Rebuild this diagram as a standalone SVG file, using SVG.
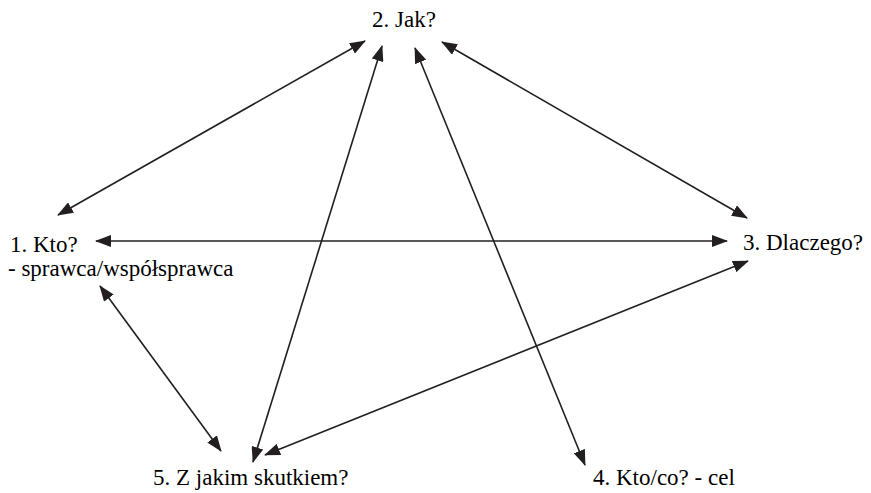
<svg xmlns="http://www.w3.org/2000/svg" width="871" height="493" viewBox="0 0 871 493">
<defs>
<marker id="a" viewBox="0 0 16 12" refX="15" refY="6" markerWidth="16" markerHeight="12" markerUnits="userSpaceOnUse" orient="auto-start-reverse">
<path d="M0,0 L16,6 L0,12 Z" fill="#231f20"/>
</marker>
</defs>
<rect width="871" height="493" fill="#fff"/>
<g id="connectors" stroke="#231f20" stroke-width="1.6" fill="none" marker-start="url(#a)" marker-end="url(#a)">
<line x1="58" y1="215" x2="365" y2="41"/>
<line x1="442" y1="42" x2="747" y2="218"/>
<line x1="96" y1="241" x2="727" y2="241"/>
<line x1="382" y1="46" x2="253" y2="462"/>
<line x1="415" y1="48" x2="585" y2="465"/>
<line x1="100" y1="286" x2="221" y2="451"/>
<line x1="748" y1="261" x2="265" y2="455"/>
</g>
<g id="n2"><text x="372" y="27" font-family="Times New Roman" font-size="23">2. Jak?</text></g>
<g id="n1"><text x="10" y="252" font-family="Times New Roman" font-size="23">1. Kto?</text><text x="8" y="276" font-family="Times New Roman" font-size="23">- sprawca/współsprawca</text></g>
<g id="n3"><text x="743" y="250" font-family="Times New Roman" font-size="23">3. Dlaczego?</text></g>
<g id="n5"><text x="153" y="485" font-family="Times New Roman" font-size="23">5. Z jakim skutkiem?</text></g>
<g id="n4"><text x="593" y="485" font-family="Times New Roman" font-size="23">4. Kto/co? - cel</text></g>
</svg>
